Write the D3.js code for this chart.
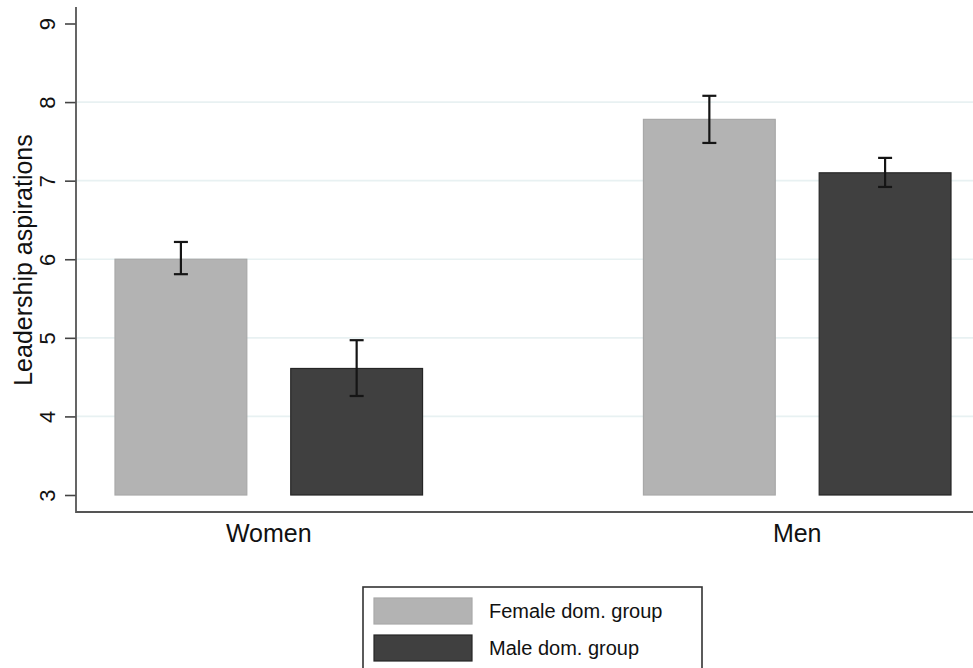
<!DOCTYPE html>
<html>
<head>
<meta charset="utf-8">
<script src="https://cdn.jsdelivr.net/npm/d3@7"></script>
<style>
  html, body { margin: 0; padding: 0; background: #fff; }
  svg { display: block; }
  text { font-family: "Liberation Sans", Arial, sans-serif; fill: #111; }
</style>
</head>
<body>
<svg id="chart" width="973" height="668"></svg>
<script>
// ---- data ----
const categories = ["Women", "Men"];
const series = ["Female dom. group", "Male dom. group"];
const meanFemaleDom = [6.00, 7.78];
const meanMaleDom = [4.61, 7.10];
const lowFemaleDom = [5.81, 7.48];
const highFemaleDom = [6.22, 8.08];
const lowMaleDom = [4.26, 6.92];
const highMaleDom = [4.97, 7.29];
const yTicks = [3, 4, 5, 6, 7, 8, 9];
const gridTicks = [4, 5, 6, 7, 8];
const yLabel = "Leadership aspirations";

const fills = ["#b3b3b3", "#404040"];
const strokes = ["#a8a8a8", "#262626"];

const rows = [];
categories.forEach((c, i) => {
  rows.push({cat: c, s: series[0], v: meanFemaleDom[i], lo: lowFemaleDom[i], hi: highFemaleDom[i], k: 0});
  rows.push({cat: c, s: series[1], v: meanMaleDom[i], lo: lowMaleDom[i], hi: highMaleDom[i], k: 1});
});

const svg = d3.select("#chart");
const axisX = 76, axisY = 512, rightEdge = 973;

const y = d3.scaleLinear().domain([3, 9]).range([495, 23.5]);
const x0 = d3.scaleBand().domain(categories).range([115, 951]).paddingInner(0.418).paddingOuter(0);
const x1 = d3.scaleBand().domain(series).range([0, x0.bandwidth()]).paddingInner(0.25).paddingOuter(0);

// gridlines
svg.append("g").selectAll("line").data(gridTicks).join("line")
  .attr("x1", axisX + 1).attr("x2", rightEdge)
  .attr("y1", d => y(d)).attr("y2", d => y(d))
  .attr("stroke", "#e8f1f2").attr("stroke-width", 1.6);

// bars
svg.append("g").selectAll("rect").data(rows).join("rect")
  .attr("x", d => x0(d.cat) + x1(d.s))
  .attr("y", d => y(d.v))
  .attr("width", x1.bandwidth())
  .attr("height", d => y(3) - y(d.v))
  .attr("fill", d => fills[d.k])
  .attr("stroke", d => strokes[d.k])
  .attr("stroke-width", 1.2);

// error bars
const eb = svg.append("g").attr("stroke", "#151515").attr("stroke-width", 2.2);
rows.forEach(d => {
  const cx = x0(d.cat) + x1(d.s) + x1.bandwidth() / 2;
  eb.append("line").attr("x1", cx).attr("x2", cx).attr("y1", y(d.lo)).attr("y2", y(d.hi));
  eb.append("line").attr("x1", cx - 7).attr("x2", cx + 7).attr("y1", y(d.lo)).attr("y2", y(d.lo));
  eb.append("line").attr("x1", cx - 7).attr("x2", cx + 7).attr("y1", y(d.hi)).attr("y2", y(d.hi));
});

// y axis
const yAxis = svg.append("g").attr("transform", `translate(${axisX},0)`)
  .call(d3.axisLeft(y).tickValues(yTicks).tickSize(11).tickPadding(0).tickFormat(d3.format("d")));
yAxis.select(".domain").remove();
yAxis.selectAll(".tick line").attr("stroke", "#444").attr("stroke-width", 1.6);
yAxis.selectAll(".tick text")
  .attr("x", null).attr("dy", null)
  .attr("transform", "translate(-21,0) rotate(-90)")
  .attr("text-anchor", "middle")
  .style("font-size", "22px")
  .style("font-family", "'Liberation Sans', Arial, sans-serif")
  .attr("fill", "#111");
svg.append("line").attr("x1", axisX).attr("x2", axisX).attr("y1", 7).attr("y2", axisY + 1)
  .attr("stroke", "#555").attr("stroke-width", 1.8);

// x axis line
svg.append("line").attr("x1", axisX).attr("x2", rightEdge).attr("y1", axisY).attr("y2", axisY)
  .attr("stroke", "#555").attr("stroke-width", 1.8);

// category labels
svg.append("g").selectAll("text").data(categories).join("text")
  .attr("x", d => x0(d) + x0.bandwidth() / 2)
  .attr("y", 542)
  .attr("text-anchor", "middle")
  .style("font-size", "25px")
  .text(d => d);

// y title
svg.append("text")
  .attr("transform", "translate(32,260) rotate(-90)")
  .attr("text-anchor", "middle")
  .style("font-size", "25px")
  .text(yLabel);

// legend
const lg = svg.append("g");
lg.append("rect").attr("x", 363).attr("y", 587).attr("width", 339).attr("height", 100)
  .attr("fill", "#fff").attr("stroke", "#333").attr("stroke-width", 1.6);
series.forEach((s, i) => {
  const top = 598 + i * 37;
  lg.append("rect").attr("x", 374).attr("y", top).attr("width", 98).attr("height", 26)
    .attr("fill", fills[i]).attr("stroke", strokes[i]).attr("stroke-width", 1.2);
  lg.append("text").attr("x", 489).attr("y", top + 20)
    .style("font-size", "20px").text(s);
});
</script>
</body>
</html>
